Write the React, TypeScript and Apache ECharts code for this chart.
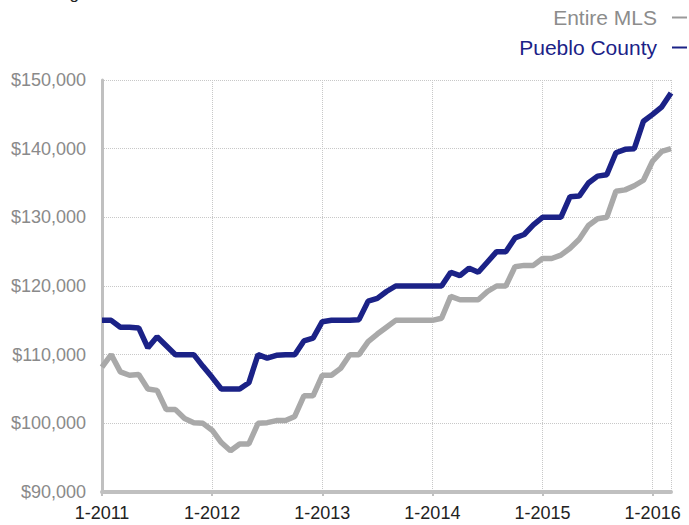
import React, { useEffect, useRef } from "react";
import * as echarts from "echarts";

const startYear = 2011;
const monthCount = 63;
const categories: string[] = Array.from({ length: monthCount }, (_, i) => {
  const m = (i % 12) + 1;
  const y = startYear + Math.floor(i / 12);
  return `${m}-${y}`;
});

const entireMLS: number[] = [
  108200, 110000, 107500, 107000, 107100, 105000, 104800, 102000, 102000, 100700, 100100, 100000,
  99000, 97200, 96000, 97000, 97000, 100000, 100100, 100400, 100400, 101000, 104000, 104000,
  107000, 107000, 108000, 110000, 110000, 111900, 113000, 114000, 115000, 115000, 115000, 115000,
  115000, 115300, 118500, 118000, 118000, 118000, 119200, 120000, 120000, 122800, 123000, 123000,
  124000, 124000, 124500, 125500, 126800, 128800, 129800, 130000, 133800, 134000, 134600, 135400,
  138200, 139600, 140000,
];

const puebloCounty: number[] = [
  115000, 115000, 114000, 114000, 113900, 111000, 112600, 111300, 110000, 110000, 110000, 108300,
  106700, 105000, 105000, 105000, 105900, 110000, 109500, 109900, 110000, 110000, 112000, 112400,
  114800, 115000, 115000, 115000, 115100, 117800, 118200, 119200, 120000, 120000, 120000, 120000,
  120000, 120000, 122000, 121500, 122600, 122000, 123500, 125000, 125000, 127000, 127500, 128900,
  130000, 130000, 130000, 133000, 133100, 135000, 136000, 136200, 139400, 139900, 140000, 144000,
  145000, 146100, 148100,
];

const seriesNames = ["Entire MLS", "Pueblo County"];
const titleText = "Rolling 12 Month Calculation";
const yMin = 90000;
const yMax = 150000;
const yStep = 10000;

const FONT = "'Liberation Sans', Arial, Helvetica, sans-serif";
const GRAY_LINE = "#a9a9a9";
const NAVY = "#1b2287";

export default function App() {
  const ref = useRef<HTMLDivElement>(null);

  useEffect(() => {
    if (!ref.current) return;
    const chart = echarts.init(ref.current, null, { renderer: "svg" });
    const yearIdx = (i: number) => i % 12 === 0;
    chart.setOption({
      animation: false,
      backgroundColor: "#ffffff",
      textStyle: { fontFamily: FONT },
      grid: { left: 102, right: 18, top: 80, bottom: 33 },
      legend: {
        orient: "vertical",
        right: 2,
        top: 7,
        padding: 0,
        align: "right",
        icon: "rect",
        itemWidth: 15,
        itemHeight: 2,
        itemGap: 9,
        textStyle: { fontSize: 21, fontFamily: FONT, padding: [0, 10, 0, 0] },
        data: [
          { name: seriesNames[0], textStyle: { color: "#8c8c8c" }, itemStyle: { color: "#9a9a9a" } },
          { name: seriesNames[1], textStyle: { color: NAVY }, itemStyle: { color: NAVY } },
        ],
      },
      graphic: [
        {
          type: "text",
          left: 27,
          top: -15,
          style: {
            text: titleText,
            font: `17px ${FONT}`,
            fill: "#222222",
          },
        },
      ],
      xAxis: {
        type: "category",
        data: categories,
        boundaryGap: false,
        axisLine: { show: true, lineStyle: { color: "#c0c0c0", width: 4 } },
        axisTick: {
          show: true,
          interval: (i: number) => yearIdx(i),
          length: 4,
          lineStyle: { color: "#c0c0c0", width: 2 },
        },
        axisLabel: {
          interval: (i: number) => yearIdx(i),
          color: "#222222",
          fontSize: 18,
          fontFamily: FONT,
          margin: 12,
        },
        splitLine: {
          show: true,
          interval: (i: number) => yearIdx(i) || i === monthCount - 1,
          lineStyle: { color: "#c8c8c8", type: "dotted", width: 1 },
        },
      },
      yAxis: {
        type: "value",
        min: yMin,
        max: yMax,
        interval: yStep,
        axisLine: { show: true, lineStyle: { color: "#c0c0c0", width: 3 } },
        axisTick: { show: false },
        axisLabel: {
          color: "#8a8a8a",
          fontSize: 18,
          fontFamily: FONT,
          margin: 16,
          formatter: (v: number) => "$" + v.toLocaleString("en-US"),
        },
        splitLine: { show: true, lineStyle: { color: "#c8c8c8", type: "dotted", width: 1 } },
      },
      series: [
        {
          name: seriesNames[0],
          type: "line",
          data: entireMLS,
          showSymbol: false,
          symbol: "none",
          lineStyle: { color: GRAY_LINE, width: 5.5 },
          itemStyle: { color: GRAY_LINE },
          z: 2,
        },
        {
          name: seriesNames[1],
          type: "line",
          data: puebloCounty,
          showSymbol: false,
          symbol: "none",
          lineStyle: { color: NAVY, width: 5.5 },
          itemStyle: { color: NAVY },
          z: 3,
        },
      ],
    });
    return () => chart.dispose();
  }, []);

  return (
    <div
      ref={ref}
      style={{ position: "absolute", left: 0, top: 0, width: 689, height: 525 }}
    />
  );
}
